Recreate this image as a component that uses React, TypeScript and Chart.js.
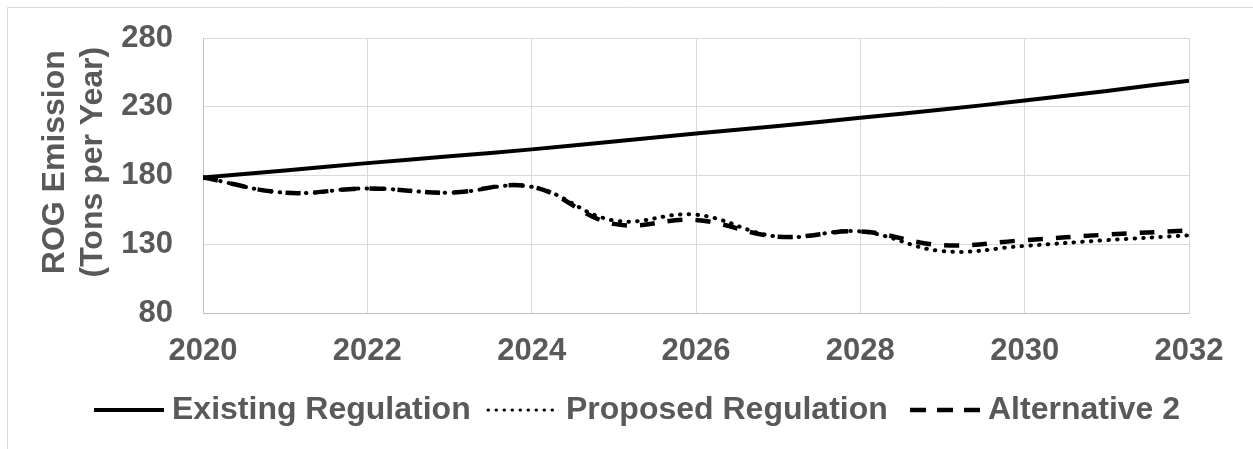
import React, { useEffect, useRef } from 'react';
import { Chart, registerables } from 'chart.js';

Chart.register(...registerables);

// ---- data ----
const years = [2020, 2021, 2022, 2023, 2024, 2025, 2026, 2027, 2028, 2029, 2030, 2031, 2032];
const existingRegulation = [178.5, 183.7, 189, 194, 199, 204.7, 210.5, 216, 222, 228, 234.5, 241.5, 249];
const proposedRegulation = [178.5, 167.5, 170.6, 167.5, 171.8, 147.3, 151.5, 135.5, 139.3, 125, 128.8, 133, 136.5];
const alternative2 = [178.5, 167.5, 170.6, 167.5, 171.8, 144.8, 147.7, 135.5, 139.3, 129.3, 133, 137, 140];
const seriesNames = ['Existing Regulation', 'Proposed Regulation', 'Alternative 2'];
const xTickValues = [2020, 2022, 2024, 2026, 2028, 2030, 2032];
const yTickValues = [80, 130, 180, 230, 280];
const yTitleLines = ['   ROG Emission', '   (Tons per Year)'];

const FONT_FAMILY = '"Liberation Sans", Arial, Helvetica, sans-serif';
const TEXT_COLOR = '#595959';
const GRID_COLOR = '#d9d9d9';

const styles = [
  { width: 4, dash: [] as number[], cap: 'butt' as CanvasLineCap, legendWidth: 4, legendDash: [] as number[] },
  { width: 4, dash: [0.5, 8.2], cap: 'round' as CanvasLineCap, legendWidth: 3, legendDash: [0.5, 7.5] },
  { width: 4.5, dash: [15, 13], cap: 'butt' as CanvasLineCap, legendWidth: 4.5, legendDash: [16, 11] },
];

// legend item left edges (layout only)
const legendItemStarts = [94, 488, 910];

const PLOT_TOP = 38;
const PLOT_LEFT = 203;
const PLOT_RIGHT = 1189;
const PLOT_BOTTOM = 313;

const framePlugin = {
  id: 'frameAndLegend',
  beforeDraw(chart: any) {
    const ctx = chart.ctx as CanvasRenderingContext2D;
    ctx.save();
    ctx.fillStyle = '#ffffff';
    ctx.fillRect(0, 0, chart.width, chart.height);
    ctx.strokeStyle = GRID_COLOR;
    ctx.lineWidth = 1;
    ctx.beginPath();
    ctx.moveTo(7.5, chart.height + 5);
    ctx.lineTo(7.5, 7.5);
    ctx.lineTo(chart.width + 5, 7.5);
    ctx.stroke();
    ctx.restore();
  },
  afterDraw(chart: any) {
    const ctx = chart.ctx as CanvasRenderingContext2D;
    const y = 410;
    const lineLen = 70;
    const textGap = 8;
    ctx.save();
    ctx.font = `bold 32px ${FONT_FAMILY}`;
    ctx.textBaseline = 'middle';
    ctx.textAlign = 'left';
    seriesNames.forEach((name, i) => {
      const s = styles[i];
      const x = legendItemStarts[i];
      ctx.beginPath();
      ctx.strokeStyle = '#000000';
      ctx.lineWidth = s.legendWidth;
      ctx.lineCap = s.cap;
      ctx.setLineDash(s.legendDash);
      ctx.moveTo(x, y);
      ctx.lineTo(x + lineLen, y);
      ctx.stroke();
      ctx.setLineDash([]);
      ctx.fillStyle = TEXT_COLOR;
      ctx.fillText(name, x + lineLen + textGap, y);
    });
    ctx.restore();
  },
};

export default function App() {
  const canvasRef = useRef<HTMLCanvasElement | null>(null);

  useEffect(() => {
    if (!canvasRef.current) return;
    const seriesData = [existingRegulation, proposedRegulation, alternative2];
    const chart = new Chart(canvasRef.current, {
      type: 'line',
      data: {
        datasets: seriesNames.map((name, i) => ({
          label: name,
          data: years.map((yr, j) => ({ x: yr, y: seriesData[i][j] })),
          borderColor: '#000000',
          backgroundColor: '#000000',
          borderWidth: styles[i].width,
          borderDash: styles[i].dash,
          borderCapStyle: styles[i].cap,
          pointRadius: 0,
          pointHoverRadius: 0,
          tension: 0.4,
          fill: false,
        })),
      },
      options: {
        responsive: false,
        animation: false,
        devicePixelRatio: 1,
        layout: { autoPadding: false, padding: { left: 0, top: PLOT_TOP, right: 1253 - PLOT_RIGHT, bottom: 449 - PLOT_BOTTOM - 60 } },
        plugins: {
          legend: { display: false },
          tooltip: { enabled: false },
        },
        scales: {
          x: {
            type: 'linear',
            min: 2020,
            max: 2032,
            afterBuildTicks: (scale: any) => {
              scale.ticks = xTickValues.map((v) => ({ value: v }));
            },
            afterFit: (scale: any) => {
              scale.height = 60;
            },
            ticks: {
              autoSkip: false,
              maxRotation: 0,
              padding: 20,
              color: TEXT_COLOR,
              font: { family: FONT_FAMILY, size: 31, weight: 'bold' },
              callback: (v: any) => String(v),
            },
            grid: { color: GRID_COLOR, lineWidth: 1, drawTicks: false },
            border: { display: true, color: '#bfbfbf', width: 1 },
          },
          y: {
            type: 'linear',
            min: 80,
            max: 280,
            afterBuildTicks: (scale: any) => {
              scale.ticks = yTickValues.map((v) => ({ value: v }));
            },
            afterFit: (scale: any) => {
              scale.width = PLOT_LEFT;
            },
            ticks: {
              autoSkip: false,
              padding: 30,
              color: TEXT_COLOR,
              font: { family: FONT_FAMILY, size: 31, weight: 'bold', lineHeight: '12px' },
              callback: (v: any) => String(v),
            },
            grid: { color: GRID_COLOR, lineWidth: 1, drawTicks: false },
            border: { display: true, color: '#bfbfbf', width: 1 },
            title: {
              display: true,
              text: yTitleLines,
              color: TEXT_COLOR,
              font: { family: FONT_FAMILY, size: 32, weight: 'bold', lineHeight: '38px' },
              padding: { top: 36, bottom: 0 },
            },
          },
        },
      },
      plugins: [framePlugin],
    });
    return () => chart.destroy();
  }, []);

  return (
    <div style={{ position: 'fixed', left: 0, top: 0, width: 1253, height: 449, overflow: 'hidden', background: '#fff' }}>
      <canvas ref={canvasRef} width={1253} height={449} style={{ display: 'block', width: 1253, height: 449 }} />
    </div>
  );
}
